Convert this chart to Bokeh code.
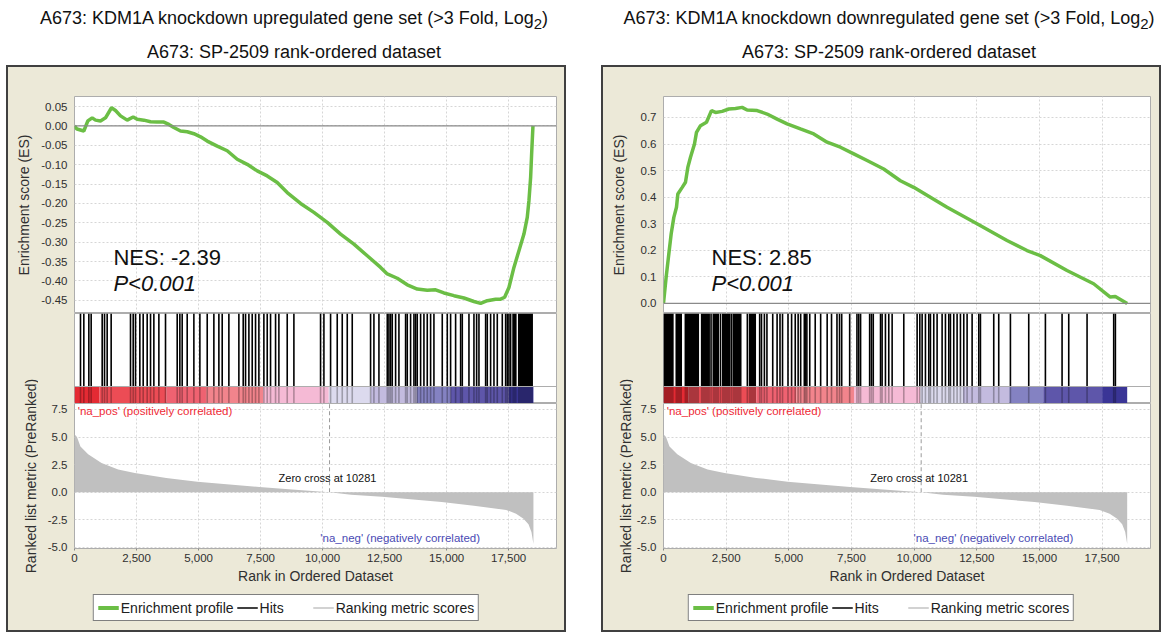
import math
from bokeh.plotting import figure
from bokeh.layouts import row, column, Spacer
from bokeh.models import (Div, Range1d, FixedTicker, NumeralTickFormatter, Legend,
                          LegendItem, Span)
from bokeh.embed import file_html
from bokeh.resources import INLINE
from bokeh.core.properties import value

# ---------------------------------------------------------------- data
X_END = 19430
X_TICKS = [0, 2500, 5000, 7500, 10000, 12500, 15000, 17500]
ZERO_CROSS = 10281

# ranked list metric (same ranked dataset in both panels)
metric_rank = [0, 100, 240, 550, 1090, 1760, 2430, 3700, 4950, 6250, 7450, 8900,
               10281, 11150, 12400, 13650, 14800, 16100, 17400, 17800, 18100, 18300,
               18420, 18500]
metric_val = [5.25, 5.0, 4.15, 3.45, 2.65, 2.05, 1.75, 1.3, 0.94, 0.7, 0.47, 0.22,
              0.0, -0.22, -0.4, -0.66, -0.88, -1.22, -1.6, -1.95, -2.4, -2.9,
              -3.6, -4.7]
METRIC_TICKS = [-5.0, -2.5, 0.0, 2.5, 5.0, 7.5]
METRIC_LO, METRIC_HI = -5.1, 8.04

# colour bar of the ranked list
band_start = [0, 1000, 3700, 5300, 7600, 10250, 11950, 13800, 15150, 17500]
band_end = [1000, 3700, 5300, 7600, 10250, 11950, 13800, 15150, 17500, 18500]
band_color = ["#E42A33", "#EC4C55", "#EF6271", "#F2848C", "#F5BAD5", "#DCDAEE",
              "#C3BBDF", "#8482C2", "#5E56AA", "#3A3596"]

# upregulated gene set (left)
up_es_rank = [0, 100, 376, 538, 713, 847, 1048, 1250, 1492, 1653, 1855, 2124, 2366,
              2527, 2796, 3065, 3333, 3602, 3804, 4005, 4274, 4543, 4812, 5081, 5350,
              5753, 6156, 6559, 6962, 7366, 7769, 8172, 8575, 9113, 9650, 10188, 10726,
              11263, 11801, 12339, 12608, 13011, 13414, 13817, 14220, 14556, 14892,
              15296, 15699, 16102, 16371, 16640, 16976, 17177, 17339, 17513, 17714,
              17916, 18117, 18251, 18319, 18387, 18427, 18481]
up_es = [0.0, -0.008, -0.013, 0.013, 0.021, 0.015, 0.013, 0.021, 0.047, 0.040, 0.026,
         0.015, 0.023, 0.017, 0.015, 0.011, 0.010, 0.010, 0.004, -0.004, -0.013, -0.015,
         -0.020, -0.028, -0.039, -0.052, -0.064, -0.086, -0.099, -0.116, -0.129, -0.146,
         -0.172, -0.200, -0.223, -0.249, -0.279, -0.305, -0.335, -0.365, -0.382, -0.393,
         -0.410, -0.421, -0.424, -0.423, -0.431, -0.438, -0.444, -0.453, -0.458, -0.451,
         -0.447, -0.447, -0.442, -0.417, -0.365, -0.322, -0.279, -0.236, -0.193, -0.133,
         -0.073, 0.0]
up_hits = [242, 376, 578, 672, 1116, 1210, 1317, 1478, 2258, 2366, 2460, 2634, 2769,
           2930, 3065, 3199, 3401, 3669, 4140, 4247, 4341, 4543, 4812, 5054, 5350, 5618,
           5820, 5954, 6223, 6626, 6801, 6895, 7030, 7164, 7298, 7433, 7634, 7769, 7903,
           8105, 8239, 8575, 8844, 9919, 10054, 10323, 10591, 10793, 10995, 11196, 11935,
           12070, 12272, 12608, 12675, 12742, 12809, 12944, 13078, 13347, 13414, 13548,
           13683, 13750, 13817, 13952, 14086, 14220, 14355, 14489, 14825, 15027, 15161,
           15363, 15565, 15632, 15901, 16102, 16210, 16304, 16573, 16640, 16774, 16909,
           17043, 17245, 17379, 17446, 17513, 17580]
up_run_start = [17647, 17876]
up_run_end = [17822, 18481]
UP_TICKS = [0.05, 0.0, -0.05, -0.10, -0.15, -0.20, -0.25, -0.30, -0.35, -0.40, -0.45]
UP_LO, UP_HI = -0.484, 0.076

# downregulated gene set (right)
down_es_rank = [0, 107, 213, 307, 412, 518, 572, 746, 877, 970, 1077, 1236, 1316, 1476,
                1715, 1914, 2074, 2340, 2605, 2871, 3137, 3337, 3735, 4134, 4533, 4932,
                5463, 5995, 6527, 7058, 7591, 8123, 8786, 9451, 9982, 11312, 12509,
                13705, 14503, 15035, 16098, 17161, 17826, 18026, 18500]
down_es = [0.0, 0.10, 0.187, 0.262, 0.324, 0.362, 0.412, 0.437, 0.456, 0.512, 0.550,
           0.600, 0.644, 0.669, 0.682, 0.726, 0.719, 0.723, 0.732, 0.734, 0.738, 0.728,
           0.726, 0.713, 0.694, 0.676, 0.657, 0.638, 0.607, 0.588, 0.563, 0.538, 0.506,
           0.462, 0.437, 0.362, 0.300, 0.237, 0.199, 0.180, 0.124, 0.074, 0.024, 0.026,
           0.0]
down_hits = [1897, 2273, 2722, 3345, 3837, 3910, 4025, 4127, 4358, 4532, 4648, 4749,
             4967, 5111, 5256, 5372, 5473, 5618, 5662, 5720, 5835, 6053, 6270, 6530,
             6704, 6921, 7023, 7110, 7428, 7718, 7790, 7863, 8225, 8297, 8369, 8659,
             8722, 8855, 8988, 9122, 9587, 10119, 10226, 10319, 10451, 10584, 10650,
             10783, 10916, 11116, 11249, 11382, 11448, 11581, 11714, 11847, 11980, 12113,
             12313, 12579, 12645, 13176, 13375, 13841, 14572, 15237, 15902, 16168, 16899,
             17962, 18029]
down_run_start = [0, 478, 840, 1491, 1955, 2331, 2766, 3403]
down_run_end = [405, 738, 1419, 1853, 2215, 2679, 3113, 3692]
DOWN_TICKS = [0.0, 0.1, 0.2, 0.3, 0.4, 0.5, 0.6, 0.7]
DOWN_LO, DOWN_HI = -0.038, 0.779

# legend entries: label, line colour, line width, line alpha
legend_labels = ["Enrichment profile", "Hits", "", "Ranking metric scores"]
legend_colors = ["#6BBE45", "#404040", "#C8C8C8", "#D2D2D2"]
legend_widths = [4, 2, 1, 2]
legend_alphas = [1.0, 1.0, 0.0, 1.0]

# ---------------------------------------------------------------- style
BEIGE = "#ECE9D8"
OUTLINE = "#ADADAD"
GRID = "#D6D6D6"
GREEN = "#6BBE45"
FONT = "Liberation Sans"
INNER_W = 556
LABEL_W = 30
ES_TOP, ES_H, HITS_H, BAR_H, MET_H, MET_BOTTOM, LEG_H = 29, 217, 90, 17, 145, 44, 38
TITLE_H = 65


def axis_style(ax):
    ax.major_label_text_font = FONT
    ax.major_label_text_font_size = "11.5px"
    ax.major_label_text_color = "#303030"
    ax.axis_line_color = None
    ax.major_tick_line_color = None
    ax.minor_tick_line_color = None
    ax.major_tick_out = 0
    ax.major_tick_in = 0
    ax.minor_tick_out = 0
    ax.minor_tick_in = 0
    ax.major_label_standoff = 7


def grid_style(g):
    g.grid_line_color = GRID
    g.grid_line_dash = "2 2"
    g.grid_line_width = 1


def panel(title_html, es_rank, es_val, es_lo, es_hi, es_ticks, es_fmt, hits, run_s,
          run_e, nes_text, nes_x, nes_y, p_y, frame_left, frame_w):
    left_b = frame_left - LABEL_W
    right_b = INNER_W - frame_left - frame_w
    xr = Range1d(0, X_END)
    common = dict(x_range=xr, output_backend="svg", toolbar_location=None,
                  frame_width=frame_w, min_border_left=left_b, min_border_right=right_b,
                  background_fill_color="white", border_fill_color=BEIGE,
                  outline_line_color=OUTLINE)

    # ---- enrichment score
    es = figure(y_range=Range1d(es_lo, es_hi), frame_height=ES_H, min_border_top=ES_TOP,
                min_border_bottom=0, x_axis_location=None, **common)
    axis_style(es.yaxis[0])
    es.yaxis.ticker = FixedTicker(ticks=es_ticks)
    es.yaxis.formatter = NumeralTickFormatter(format=es_fmt)
    es.xgrid.ticker = FixedTicker(ticks=X_TICKS)
    grid_style(es.xgrid[0])
    grid_style(es.ygrid[0])
    es.add_layout(Span(location=0, dimension="width", line_color="#8A8A8A",
                       line_width=1.2))
    es.line(es_rank, es_val, line_color=GREEN, line_width=3.5)
    es.text(x=[nes_x], y=[nes_y], text=[nes_text], text_font=value(FONT),
            text_font_size="22px", text_baseline="middle", text_color="#111111")
    es.text(x=[nes_x], y=[p_y], text=["P<0.001"], text_font=value(FONT),
            text_font_size="22px", text_font_style="italic", text_baseline="middle",
            text_color="#111111")

    # ---- hits + colour bar
    hf = figure(y_range=Range1d(0, HITS_H), frame_height=HITS_H, min_border_top=0,
                min_border_bottom=0, x_axis_location=None, y_axis_location=None, **common)
    hf.ygrid.visible = False
    hf.xgrid.ticker = FixedTicker(ticks=X_TICKS)
    grid_style(hf.xgrid[0])
    hf.quad(left=band_start, right=band_end, bottom=0, top=BAR_H, fill_color=band_color,
            line_color=None)
    hf.segment(x0=hits, y0=BAR_H, x1=hits, y1=HITS_H, line_color="black", line_width=1.6)
    hf.quad(left=run_s, right=run_e, bottom=BAR_H, top=HITS_H, fill_color="black",
            line_color=None)
    hf.segment(x0=hits, y0=0, x1=hits, y1=BAR_H, line_color="black", line_width=1.6,
               line_alpha=0.28)
    hf.quad(left=run_s, right=run_e, bottom=0, top=BAR_H, fill_color="black",
            fill_alpha=0.28, line_color=None)
    hf.add_layout(Span(location=BAR_H, dimension="width", line_color=OUTLINE,
                       line_width=1))

    # ---- ranked list metric
    mf = figure(y_range=Range1d(METRIC_LO, METRIC_HI), frame_height=MET_H,
                min_border_top=0, min_border_bottom=MET_BOTTOM, **common)
    for ax in (mf.xaxis[0], mf.yaxis[0]):
        axis_style(ax)
    mf.yaxis.ticker = FixedTicker(ticks=METRIC_TICKS)
    mf.yaxis.formatter = NumeralTickFormatter(format="0.0")
    mf.xaxis.ticker = FixedTicker(ticks=X_TICKS)
    mf.xaxis.formatter = NumeralTickFormatter(format="0,0")
    mf.xaxis.major_tick_line_color = "#8A8A8A"
    mf.xaxis.major_tick_out = 2
    mf.xaxis.major_label_standoff = 3
    mf.xaxis.axis_label = "Rank in Ordered Dataset"
    mf.xaxis.axis_label_text_font = FONT
    mf.xaxis.axis_label_text_font_size = "14px"
    mf.xaxis.axis_label_text_font_style = "normal"
    mf.xaxis.axis_label_text_color = "#303030"
    mf.xaxis.axis_label_standoff = 3
    grid_style(mf.xgrid[0])
    grid_style(mf.ygrid[0])
    mf.varea(x=metric_rank, y1=0, y2=metric_val, fill_color="#C0C0C0")
    mf.segment(x0=[ZERO_CROSS], y0=[0], x1=[ZERO_CROSS], y1=[METRIC_HI],
               line_color="#9A9A9A", line_dash="4 3", line_width=1)
    mf.text(x=[130], y=[7.32], text=["'na_pos' (positively correlated)"],
            text_font=value(FONT), text_font_size="11.5px", text_color="#EE2A36",
            text_baseline="middle")
    mf.text(x=[16350], y=[-4.18], text=["'na_neg' (negatively correlated)"],
            text_font=value(FONT), text_font_size="11.5px", text_color="#4A4AB4",
            text_baseline="middle", text_align="right")
    mf.text(x=[10200], y=[1.3], text=["Zero cross at " + str(ZERO_CROSS)],
            text_font=value(FONT), text_font_size="11px", text_color="#111111",
            text_baseline="middle", text_align="center")

    # ---- legend strip (its sample lines lie outside the strip's visible range)
    lf = figure(width=INNER_W, height=LEG_H, x_range=Range1d(0, 1), y_range=Range1d(0, 1),
                x_axis_location=None, y_axis_location=None, toolbar_location=None,
                output_backend="svg", min_border=0, outline_line_color=None,
                background_fill_color=BEIGE, border_fill_color=BEIGE)
    lf.grid.visible = False
    items = []
    for lbl, col, lw, la in zip(legend_labels, legend_colors, legend_widths,
                                legend_alphas):
        r = lf.line(x=[-3, -2], y=[-3, -2], line_color=col, line_width=lw, line_alpha=la)
        items.append(LegendItem(label=lbl, renderers=[r]))
    leg = Legend(items=items, orientation="horizontal", location="top_center",
                 label_text_font=FONT, label_text_font_size="14px",
                 label_text_color="#202020", glyph_width=21, glyph_height=17,
                 label_height=17, label_width=0, label_standoff=2, spacing=3,
                 padding=4, margin=2, border_line_color="black", border_line_width=1.5,
                 background_fill_color="white", background_fill_alpha=1.0)
    lf.add_layout(leg, "center")

    # ---- vertical axis labels
    lab_h = ES_TOP + ES_H + HITS_H + MET_H + MET_BOTTOM
    lab = figure(width=LABEL_W, height=lab_h, x_range=Range1d(0, LABEL_W),
                 y_range=Range1d(lab_h, 0), x_axis_location=None, y_axis_location=None,
                 toolbar_location=None, output_backend="svg", min_border=0,
                 outline_line_color=None, background_fill_color=BEIGE,
                 border_fill_color=BEIGE)
    lab.grid.visible = False
    lab.text(x=[15], y=[ES_TOP + ES_H / 2], text=["Enrichment score (ES)"],
             angle=math.pi / 2, text_align="center", text_baseline="middle",
             text_font=value(FONT), text_font_size="14px", text_color="#303030")
    lab.text(x=[22], y=[ES_TOP + ES_H + HITS_H + MET_H / 2],
             text=["Ranked list metric (PreRanked)"], angle=math.pi / 2,
             text_align="center", text_baseline="middle", text_font=value(FONT),
             text_font_size="14px", text_color="#303030")

    box = column(row(lab, column(es, hf, mf)), lf,
                 styles={"border": "2px solid #404040", "background-color": BEIGE})
    title = Div(text=('<div style="font-family:\'Liberation Sans\',Arial,sans-serif;'
                      'font-size:18px;line-height:28px;text-align:center;color:#111;'
                      'width:560px;padding:4px 0 0 16px;box-sizing:border-box;">'
                      + title_html + '</div>'),
                width=INNER_W + 4, height=TITLE_H, margin=(0, 0, 0, 0))
    return column(title, box)


left = panel("A673: KDM1A knockdown upregulated gene set (&gt;3 Fold, Log<sub>2</sub>)"
             "<br>A673: SP-2509 rank-ordered dataset",
             up_es_rank, up_es, UP_LO, UP_HI, UP_TICKS, "0.00", up_hits, up_run_start,
             up_run_end, "NES: -2.39", 1570, -0.340, -0.407, 66, 482)
right = panel("A673: KDM1A knockdown downregulated gene set (&gt;3 Fold, Log<sub>2</sub>)"
              "<br>A673: SP-2509 rank-ordered dataset",
              down_es_rank, down_es, DOWN_LO, DOWN_HI, DOWN_TICKS, "0.0", down_hits,
              down_run_start, down_run_end, "NES: 2.85", 1915, 0.174, 0.076, 60, 487)

page = row(Spacer(width=6), left, Spacer(width=35), right)
open("out.html", "w").write(file_html(page, INLINE))
